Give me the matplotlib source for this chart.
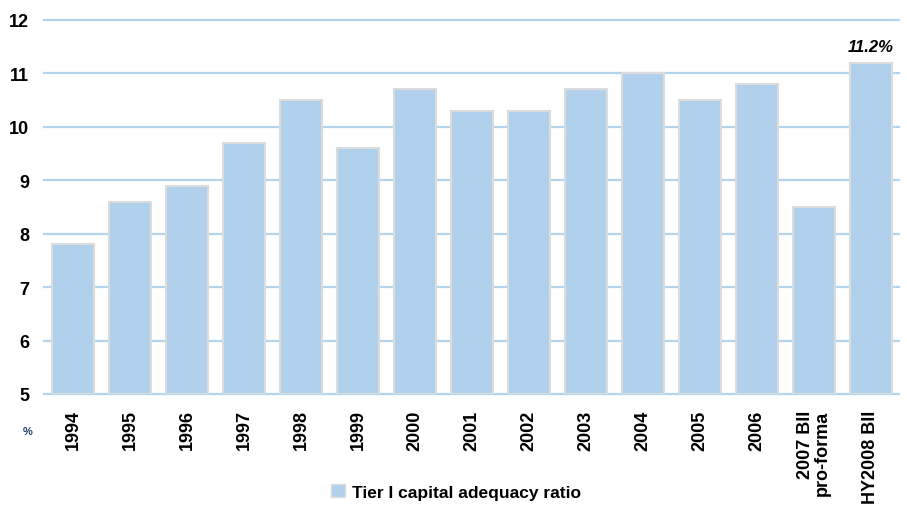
import matplotlib
matplotlib.use("Agg")
import matplotlib.pyplot as plt
from matplotlib.patches import Patch

categories = ["1994", "1995", "1996", "1997", "1998", "1999", "2000", "2001",
              "2002", "2003", "2004", "2005", "2006", "2007 BII\npro-forma", "HY2008 BII"]
tier1_ratio = [7.8, 8.6, 8.9, 9.7, 10.5, 9.6, 10.7, 10.3, 10.3, 10.7, 11.0, 10.5, 10.8, 8.5, 11.2]
y_ticks = [5, 6, 7, 8, 9, 10, 11, 12]
highlight_label = "11.2%"
series_name = "Tier I capital adequacy ratio"

plt.rcParams["font.family"] = ["Liberation Sans", "DejaVu Sans"]

bar_color = "#B0D0EB"
edge_color = "#DCDCDC"
grid_color = "#B4D3EC"

fig = plt.figure(figsize=(9.07, 5.06), dpi=100)
ax = fig.add_axes([0.049, 0.2194, 0.9427, 0.7391])

x = list(range(len(categories)))
ax.bar(x, [v - 5 for v in tier1_ratio], bottom=5, width=0.74,
       color=bar_color, edgecolor=edge_color, linewidth=1.5, zorder=3)

for t in y_ticks:
    ax.axhline(t, color=grid_color, linewidth=1.6, zorder=1, clip_on=False)

ax.set_xlim(-0.5, len(categories) - 0.5)
ax.set_ylim(5, 12)
ax.set_yticks(y_ticks)
ax.set_yticklabels([str(t) for t in y_ticks], fontsize=13, fontweight="bold")
ax.set_xticks(x)
ax.set_xticklabels(categories, rotation=90, fontsize=13, fontweight="bold",
                   va="top", ha="center", multialignment="right",
                   linespacing=1.0)
ax.tick_params(axis="both", length=0)
ax.tick_params(axis="y", pad=11)
ax.tick_params(axis="x", pad=11)
for s in ax.spines.values():
    s.set_visible(False)

ax.text(x[-1], tier1_ratio[-1] + 0.17, highlight_label, ha="center", va="bottom",
        fontsize=12, fontweight="bold", fontstyle="italic")

fig.text(0.031, 0.147, "%", ha="center", va="center", fontsize=8,
         fontweight="bold", color="#1F3F6F")

fig.legend(handles=[Patch(facecolor=bar_color, edgecolor=edge_color)],
           labels=[series_name], loc="center", bbox_to_anchor=(0.503, 0.026),
           frameon=False, handlelength=0.8, handleheight=0.8, handletextpad=0.4,
           prop={"weight": "bold", "size": 12.5})

fig.savefig("out.png", dpi=100)
